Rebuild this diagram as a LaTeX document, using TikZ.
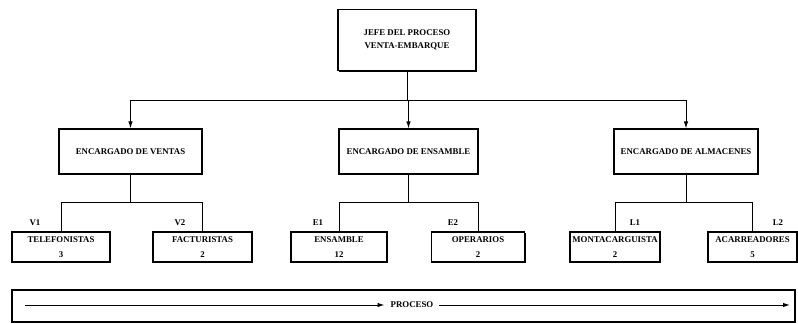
\documentclass[tikz,border=0pt]{standalone}
\usepackage{fontspec}
\setmainfont{Liberation Serif}
\usetikzlibrary{arrows.meta,shadows}
\begin{document}
\begin{tikzpicture}[x=1pt,y=-1pt,
  txt/.style={font=\bfseries\fontsize{8.8}{9.5}\selectfont},
  box/.style={draw, line width=1.1pt, fill=white,
    drop shadow={shadow xshift=1.4pt,shadow yshift=-1.4pt,opacity=1,fill=black},
    inner sep=0pt, align=center, txt},
  conn/.style={line width=1pt},
  arr/.style={line width=1pt,-{Latex[length=7pt,width=4.5pt]}},
  lbl/.style={txt, inner sep=0pt}]
\useasboundingbox (0,0) rectangle (798,324);
% top
\node[box, minimum width=138pt, minimum height=61pt] (top) at (407,40) {JEFE DEL PROCESO\\[3pt]VENTA-EMBARQUE};
% middle
\node[box, minimum width=143pt, minimum height=45pt] (ven) at (130.5,151.5) {ENCARGADO DE VENTAS};
\node[box, minimum width=139pt, minimum height=45pt] (ens) at (408.5,151.5) {ENCARGADO DE ENSAMBLE};
\node[box, minimum width=144pt, minimum height=45pt] (alm) at (686,151.5) {ENCARGADO DE ALMACENES};
% bottom
\node[box, minimum width=98pt, minimum height=30pt] (tel) at (61,247) {TELEFONISTAS\\[5pt]3};
\node[box, minimum width=99pt, minimum height=30pt] (fac) at (202.5,247) {FACTURISTAS\\[5pt]2};
\node[box, minimum width=96pt, minimum height=30pt] (ensb) at (339,247) {ENSAMBLE\\[5pt]12};
\node[box, minimum width=93pt, minimum height=30pt] (ope) at (478,247) {OPERARIOS\\[5pt]2};
\node[box, minimum width=90pt, minimum height=30pt] (mon) at (615,247) {MONTACARGUISTA\\[5pt]2};
\node[box, minimum width=89pt, minimum height=30pt] (aca) at (752.5,247) {ACARREADORES\\[5pt]5};
% labels
\node[lbl] (v1) at (35,223) {V1};
\node[lbl] (v2) at (180,223) {V2};
\node[lbl] (e1) at (318,223) {E1};
\node[lbl] (e2) at (453,223) {E2};
\node[lbl] (l1) at (635,223) {L1};
\node[lbl] (l2) at (778,223) {L2};
% bus coordinates
\coordinate (bus) at (0,100);
\coordinate (lb) at (0,202);
% top connectors
\draw[conn] (top.south) -- (top.south |- bus);
\draw[conn] (ven.north |- bus) -- (alm.north |- bus);
\draw[arr] (ven.north |- bus) -- (ven.north);
\draw[arr] (ens.north |- bus) -- (ens.north);
\draw[arr] (alm.north |- bus) -- (alm.north);
% lower connectors
\draw[conn] (ven.south) -- (ven.south |- lb);
\draw[conn] (tel.north) -- (tel.north |- lb) -- (fac.north |- lb) -- (fac.north);
\draw[conn] (ens.south) -- (ens.south |- lb);
\draw[conn] (ensb.north) -- (ensb.north |- lb) -- (ope.north |- lb) -- (ope.north);
\draw[conn] (alm.south) -- (alm.south |- lb);
\draw[conn] (mon.north) -- (mon.north |- lb) -- (aca.north |- lb) -- (aca.north);
% process band
\node[draw, line width=1.1pt, minimum width=783pt, minimum height=32pt, inner sep=0pt] (band) at (403.5,306) {};
\node[txt, inner sep=6pt] (proc) at (412,305) {PROCESO};
\coordinate (ps) at (25,305);
\coordinate (pe) at (790,305);
\draw[arr] (ps) -- (proc.west);
\draw[arr] (proc.east) -- (pe);
\end{tikzpicture}
\end{document}
